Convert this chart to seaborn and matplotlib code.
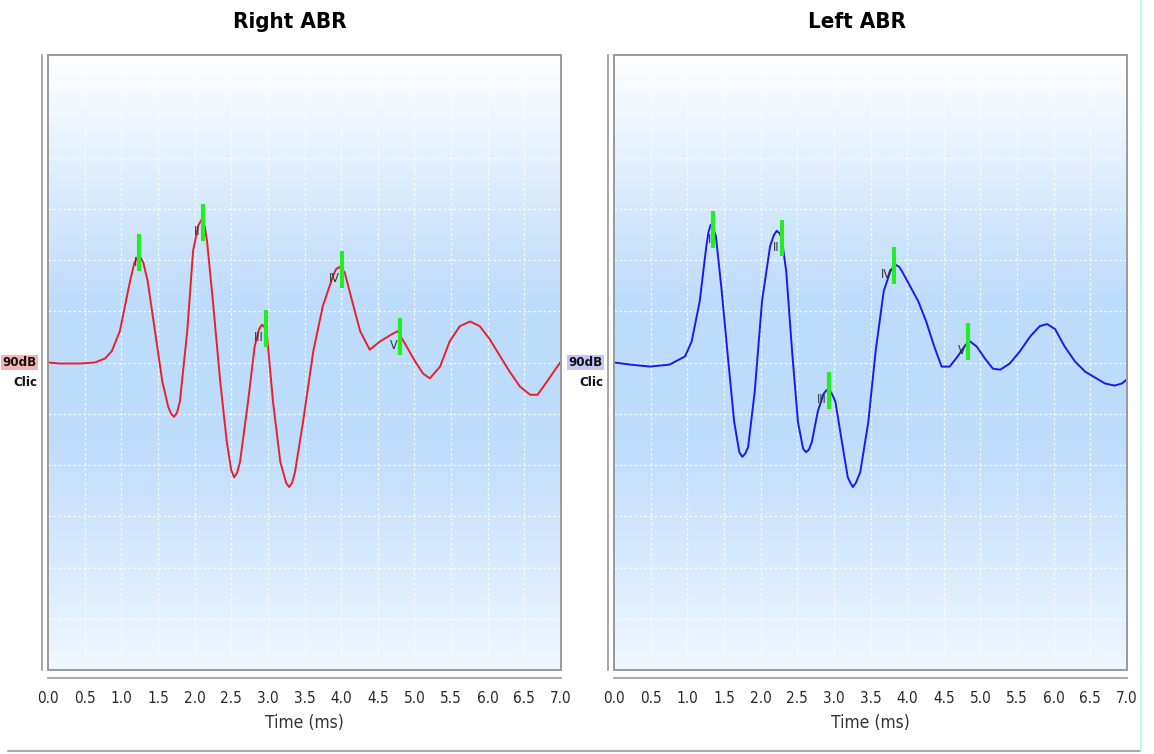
import numpy as np
import pandas as pd
import matplotlib
matplotlib.use("Agg")
import matplotlib.pyplot as plt
from matplotlib.colors import LinearSegmentedColormap
from matplotlib.patches import Rectangle
from matplotlib.lines import Line2D
import seaborn as sns

# ---------------- data ----------------
right_time = [0.00, 0.16, 0.44, 0.64, 0.78, 0.87, 0.98, 1.12, 1.18, 1.24, 1.30, 1.36, 1.46, 1.56, 1.64,
              1.68, 1.72, 1.76, 1.80, 1.90, 1.98, 2.05, 2.10, 2.14, 2.17, 2.25, 2.35, 2.44, 2.50, 2.54,
              2.58, 2.62, 2.73, 2.82, 2.88, 2.92, 2.96, 2.99, 3.07, 3.17, 3.25, 3.29, 3.33, 3.37, 3.48,
              3.62, 3.75, 3.89, 3.93, 3.97, 4.01, 4.05, 4.15, 4.26, 4.39, 4.53, 4.69, 4.77, 4.87, 5.01,
              5.12, 5.21, 5.35, 5.48, 5.62, 5.76, 5.89, 6.03, 6.17, 6.30, 6.44, 6.58, 6.68, 6.81, 6.92,
              7.00]
right_amp = [0.00, -0.02, -0.02, 0.00, 0.08, 0.22, 0.61, 1.59, 1.95, 2.10, 1.95, 1.59, 0.61, -0.37, -0.86,
             -1.00, -1.06, -0.98, -0.76, 0.61, 2.18, 2.67, 2.80, 2.65, 2.37, 1.20, -0.37, -1.55, -2.10, -2.24,
             -2.15, -1.94, -0.76, 0.31, 0.65, 0.74, 0.68, 0.51, -0.76, -1.94, -2.35, -2.43, -2.35, -2.14, -1.16,
             0.22, 1.10, 1.69, 1.82, 1.86, 1.83, 1.75, 1.20, 0.61, 0.25, 0.41, 0.55, 0.61, 0.37, 0.02,
             -0.22, -0.31, -0.08, 0.41, 0.71, 0.80, 0.71, 0.45, 0.12, -0.18, -0.47, -0.63, -0.63, -0.37, -0.14,
             0.02]

left_time = [0.00, 0.22, 0.49, 0.76, 0.97, 1.06, 1.17, 1.26, 1.29, 1.32, 1.35, 1.39, 1.47, 1.56, 1.64,
             1.71, 1.75, 1.79, 1.83, 1.92, 2.02, 2.13, 2.18, 2.22, 2.26, 2.29, 2.35, 2.43, 2.51, 2.58,
             2.62, 2.66, 2.70, 2.78, 2.86, 2.90, 2.93, 2.97, 3.02, 3.11, 3.19, 3.23, 3.26, 3.30, 3.36,
             3.47, 3.57, 3.68, 3.77, 3.81, 3.85, 3.89, 3.93, 4.04, 4.15, 4.26, 4.37, 4.47, 4.58, 4.69,
             4.80, 4.86, 4.95, 5.06, 5.17, 5.27, 5.40, 5.54, 5.68, 5.81, 5.91, 6.02, 6.15, 6.29, 6.43,
             6.56, 6.70, 6.83, 6.93, 7.00]
left_amp = [0.00, -0.04, -0.08, -0.04, 0.12, 0.41, 1.20, 2.27, 2.55, 2.69, 2.62, 2.47, 1.39, 0.02, -1.16,
            -1.75, -1.84, -1.78, -1.65, -0.57, 1.20, 2.27, 2.48, 2.57, 2.52, 2.41, 1.78, 0.22, -1.16, -1.68,
            -1.75, -1.70, -1.55, -0.96, -0.61, -0.54, -0.53, -0.60, -0.76, -1.55, -2.24, -2.36, -2.43, -2.35, -2.14,
            -1.16, 0.22, 1.39, 1.78, 1.86, 1.90, 1.87, 1.78, 1.49, 1.20, 0.80, 0.31, -0.08, -0.08, 0.12,
            0.35, 0.41, 0.31, 0.08, -0.12, -0.14, -0.02, 0.22, 0.51, 0.71, 0.75, 0.65, 0.31, 0.02, -0.18,
            -0.29, -0.41, -0.45, -0.41, -0.33]

peak_labels = ["I", "II", "III", "IV", "V"]
right_peak_time = [1.24, 2.11, 2.97, 4.01, 4.80]
right_peak_amp = [2.14, 2.73, 0.67, 1.82, 0.51]
left_peak_time = [1.35, 2.29, 2.93, 3.82, 4.83]
left_peak_amp = [2.59, 2.43, -0.55, 1.90, 0.41]

x_ticks = [0.0, 0.5, 1.0, 1.5, 2.0, 2.5, 3.0, 3.5, 4.0, 4.5, 5.0, 5.5, 6.0, 6.5, 7.0]
y_ticks = list(range(-6, 7))

# ---------------- style ----------------
sns.set_theme(style="white")
plt.rcParams["font.family"] = ["DejaVu Sans"]
plt.rcParams["font.stretch"] = "condensed"

W, H = 1154, 754
fig = plt.figure(figsize=(W / 100, H / 100), dpi=100)

grad_cmap = LinearSegmentedColormap.from_list(
    "abrbg", [(0.0, "#ffffff"), (0.40, "#bddcfb"), (0.62, "#bddcfb"), (1.0, "#f0f7ff")])
gradient = np.linspace(0, 1, 256).reshape(-1, 1)

panels = [
    dict(title="Right ABR", left=48, t=right_time, a=right_amp, pt=right_peak_time, pa=right_peak_amp,
         color="#e8202a", tag_bg="#f7b3b3", title_x=290),
    dict(title="Left ABR", left=614, t=left_time, a=left_amp, pt=left_peak_time, pa=left_peak_amp,
         color="#1a1aee", tag_bg="#c4c4f6", title_x=857),
]

for p in panels:
    ax = fig.add_axes([p["left"] / W, (H - 670) / H, 513 / W, 615 / H])
    ax.set_facecolor("none")
    ax.imshow(gradient, extent=[0, 1, 0, 1], transform=ax.transAxes, aspect="auto",
              cmap=grad_cmap, zorder=0)
    ax.set_xlim(0, 7)
    ax.set_ylim(-6, 6)
    ax.set_xticks(x_ticks)
    ax.set_xticklabels([f"{v:.1f}" for v in x_ticks], fontsize=10.5, color="#555555")
    ax.set_yticks(y_ticks)
    ax.set_yticklabels([])
    ax.grid(True, color="white", linestyle=(0, (2, 2)), linewidth=0.9, alpha=0.9)
    ax.set_axisbelow(True)

    for s in ["top", "right"]:
        ax.spines[s].set_visible(False)
    ax.spines["left"].set_position(("outward", 4))
    ax.spines["bottom"].set_position(("outward", 6))
    for s in ["left", "bottom"]:
        ax.spines[s].set_color("#999999")
        ax.spines[s].set_linewidth(1.2)
    ax.tick_params(axis="both", direction="out", length=3, width=1, color="#999999", pad=6)

    ax.add_patch(Rectangle((0, 0), 1, 1, transform=ax.transAxes, fill=False,
                           edgecolor="#9a9a9a", linewidth=1.4, zorder=5, clip_on=False))

    df = pd.DataFrame({"time": p["t"], "amp": p["a"]})
    sns.lineplot(data=df, x="time", y="amp", ax=ax, color=p["color"], linewidth=1.4,
                 estimator=None, sort=False, zorder=3)

    ax.vlines(p["pt"], np.array(p["pa"]) - 0.36, np.array(p["pa"]) + 0.36,
              color="#22ee22", linewidth=3, zorder=4)
    for lab, tx, ay in zip(peak_labels, p["pt"], p["pa"]):
        ax.annotate(lab, xy=(tx, ay), xytext=(-1.5, -2), textcoords="offset points",
                    ha="right", va="top", fontsize=9, color="#333333", zorder=4)

    ax.set_xlabel("Time (ms)", fontsize=12.5, color="#333333", labelpad=6)
    ax.set_ylabel("")

    ax.annotate("90dB", xy=(0, 0), xycoords=("axes fraction", "data"), xytext=(-8, 0),
                textcoords="offset points", ha="right", va="center", fontsize=9.5,
                fontweight="bold", color="#111111",
                bbox=dict(boxstyle="square,pad=0.1", fc=p["tag_bg"], ec="none"))
    ax.annotate("Clic", xy=(0, -0.4), xycoords=("axes fraction", "data"), xytext=(-8, 0),
                textcoords="offset points", ha="right", va="center", fontsize=9.5,
                fontweight="bold", color="#111111")

    fig.text(p["title_x"] / W, 1 - 22 / H, p["title"], ha="center", va="center",
             fontsize=16, fontweight="bold", color="#000000")

fig.add_artist(Line2D([8 / W, 1140 / W], [1 - 751 / H, 1 - 751 / H], color="#aaaaaa", linewidth=1.5))
fig.add_artist(Line2D([1141 / W, 1141 / W], [1 - 751 / H, 1.0], color="#bff0f0", linewidth=1.2))

fig.savefig("out.png", dpi=100)
